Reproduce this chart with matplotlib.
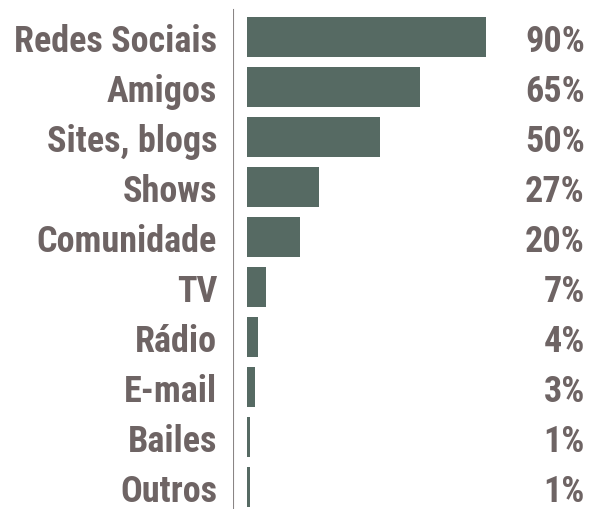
import matplotlib.pyplot as plt
import matplotlib.transforms as mtransforms

# fontes de informação e percentual de respostas
fontes = ["Redes Sociais", "Amigos", "Sites, blogs", "Shows", "Comunidade",
          "TV", "Rádio", "E-mail", "Bailes", "Outros"]
valores = [90, 65, 50, 27, 20, 7, 4, 3, 1, 1]
rotulos = ["90%", "65%", "50%", "27%", "20%", "7%", "4%", "3%", "1%", "1%"]

cor_barra = "#566a63"
cor_texto = "#6e6464"
fonte = ["Roboto Condensed", "DejaVu Sans"]

fig = plt.figure(figsize=(5.92, 5.10), dpi=100)
ax = fig.add_axes([233 / 592, 0, 359 / 592, 1])

pos = list(range(len(fontes)))
ax.barh(pos, valores, height=0.8, color=cor_barra, left=0)

ax.set_xlim(-5.3, 129.9)
ax.set_ylim(9.44, -0.76)

# linha vertical do eixo
ax.axvline(-5.3, ymin=0, ymax=(510 - 11) / 510, color="#8a8585", lw=1.5)

for s in ax.spines.values():
    s.set_visible(False)
ax.set_xticks([])
ax.set_yticks(pos)
ax.set_yticklabels(fontes, family=fonte, fontweight="semibold", fontsize=26,
                   color=cor_texto)
ax.tick_params(axis="y", length=0, pad=11.5)

trans = mtransforms.blended_transform_factory(ax.transAxes, ax.transData)
for p, r in zip(pos, rotulos):
    ax.text(0.9805, p, r, transform=trans, ha="right", va="center_baseline",
            family=fonte, fontweight="semibold", fontsize=26, color=cor_texto)

fig.savefig("out.png", dpi=100)
